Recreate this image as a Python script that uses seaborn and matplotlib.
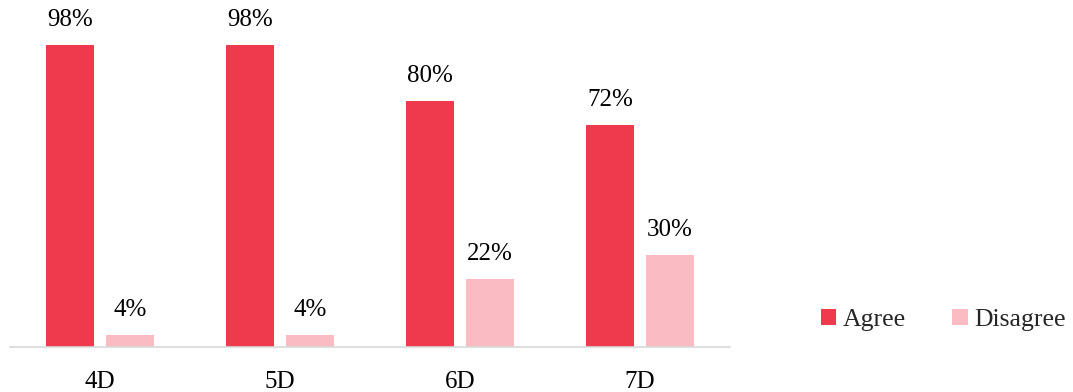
import matplotlib
matplotlib.use("Agg")
import matplotlib.pyplot as plt
import seaborn as sns
import pandas as pd
from matplotlib.patches import Patch

categories = ["4D", "5D", "6D", "7D"]
agree = [98, 98, 80, 72]
disagree = [4, 4, 22, 30]
series_names = ["Agree", "Disagree"]
colors = ["#EF3A4E", "#FBBBC3"]

df = pd.DataFrame({
    "cat": categories * 2,
    "val": agree + disagree,
    "series": [series_names[0]] * 4 + [series_names[1]] * 4,
})

sns.set_theme(style="white")
plt.rcParams["font.family"] = ["Liberation Serif", "DejaVu Serif"]

fig = plt.figure(figsize=(10.73, 3.92), dpi=100)
ax = fig.add_axes([10 / 1073, 45 / 392, 720 / 1073, (392 - 45 - 5) / 392])

sns.barplot(data=df, x="cat", y="val", hue="series", palette=colors,
            width=2 / 3, gap=0.2, ax=ax, legend=False, saturation=1,
            linewidth=0, edgecolor="none")

for cont in ax.containers:
    ax.bar_label(cont, labels=[f"{int(v)}%" for v in cont.datavalues],
                 padding=10, fontsize=18, color="#000000")

ax.set_ylim(0, 111)
ax.set_xlim(-0.5, 3.5)
ax.set_xlabel("")
ax.set_ylabel("")
ax.set_yticks([])
ax.tick_params(axis="x", labelsize=18, colors="#000000", pad=17, length=0)
for s in ["top", "right", "left"]:
    ax.spines[s].set_visible(False)
ax.spines["bottom"].set_color("#D9D9D9")
ax.spines["bottom"].set_linewidth(1.2)

handles = [Patch(facecolor=c, edgecolor="none") for c in colors]
fig.legend(handles, series_names, loc="center left",
           bbox_to_anchor=(821 / 1073, 1 - 320 / 392), frameon=False,
           ncol=2, fontsize=18.5, handlelength=0.6, handleheight=0.6,
           handletextpad=0.25, columnspacing=1.8, borderpad=0, borderaxespad=0)

fig.savefig("out.png", dpi=100)
